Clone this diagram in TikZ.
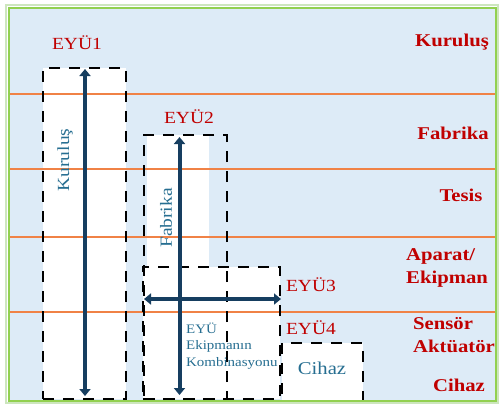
\documentclass[tikz,border=0pt]{standalone}
\usepackage{fontspec}
\setmainfont[FakeStretch=1.15]{Liberation Serif}
\usetikzlibrary{arrows.meta}
\definecolor{zemin}{RGB}{221,235,247}
\definecolor{cerceve}{RGB}{146,208,80}
\definecolor{acikyesil}{RGB}{205,230,190}
\definecolor{turuncu}{RGB}{240,130,70}
\definecolor{kirmizi}{RGB}{192,0,0}
\definecolor{lacivert}{RGB}{22,62,96}
\definecolor{camgobegi}{RGB}{38,110,145}
\begin{document}
\begin{tikzpicture}[x=1pt,y=-1pt,every node/.style={inner sep=0pt,font=\fontsize{17}{20}\selectfont},kutu/.style={draw,dash pattern=on 11pt off 9pt,line width=2.8pt},seviye/.style={text=kirmizi,font=\bfseries\fontsize{18}{23}\selectfont,align=left},eyu/.style={text=kirmizi},yazi/.style={text=camgobegi},ok/.style={lacivert,line width=4pt,{Triangle[width=11pt,length=7pt]}-{Triangle[width=11pt,length=7pt]}}]
\useasboundingbox (0,0) rectangle (500,407);
\fill[white] (0,0) rectangle (500,407);
\draw[acikyesil,line width=2pt] (6,5) rectangle (498,403);
\fill[zemin] (9,8) rectangle (496,401);
\fill[white] (43,68) rectangle (126,399);\fill[white] (147,135) rectangle (209,267);\fill[white] (143,267) rectangle (280,399);\fill[white] (282,343) rectangle (363,401);
\foreach \y in {94,169,237,312} \draw[turuncu,line width=1.5pt] (10,\y) -- (495,\y);
\node[kutu,minimum width=83pt,minimum height=331pt] (k1) at (84.5,233.5) {};
\node[kutu,minimum width=83pt,minimum height=264pt] (k2) at (185.5,267) {};
\node[kutu,minimum width=137pt,minimum height=132pt] (k3) at (211.5,333) {};
\node[kutu,minimum width=81pt,minimum height=58pt] (k4) at (322.5,372) {};
\coordinate (u1) at (85,69);\coordinate (a1) at (85,396);
\coordinate (u2) at (179.5,137);\coordinate (a2) at (179.5,395);
\coordinate (s3) at (144,299);\coordinate (d3) at (281,299);
\draw[ok] (a1)--(u1);\draw[ok] (a2)--(u2);\draw[ok] (s3)--(d3);
\node[eyu] (e1) at (77,43) {EYÜ1};
\node[eyu] (e2) at (189,117) {EYÜ2};
\node[eyu] (e3) at (311,285) {EYÜ3};
\node[eyu] (e4) at (311,328) {EYÜ4};
\node[yazi,rotate=90] (t1) at (65,160) {Kuruluş};
\node[yazi,rotate=90] (t2) at (166,218) {Fabrika};
\node[yazi,font=\fontsize{13}{16.5}\selectfont,align=left,anchor=west] (t3) at (186,346) {EYÜ\\Ekipmanın\\Kombinasyonu};
\node[yazi,font=\fontsize{18}{20}\selectfont] (t4) at (322,368) {Cihaz};
\node[seviye] (s1) at (452,42) {Kuruluş};
\node[seviye] (s2) at (453,133) {Fabrika};
\node[seviye] (s3) at (461,195) {Tesis};
\node[seviye,anchor=west] (s4) at (406,268) {Aparat/\\Ekipman};
\node[seviye,anchor=west] (s5) at (413,335) {Sensör\\Aktüatör};
\node[seviye] (s6) at (459,385) {Cihaz};
\draw[cerceve,line width=2.5pt] (9,8) rectangle (496,401);
\end{tikzpicture}
\end{document}
